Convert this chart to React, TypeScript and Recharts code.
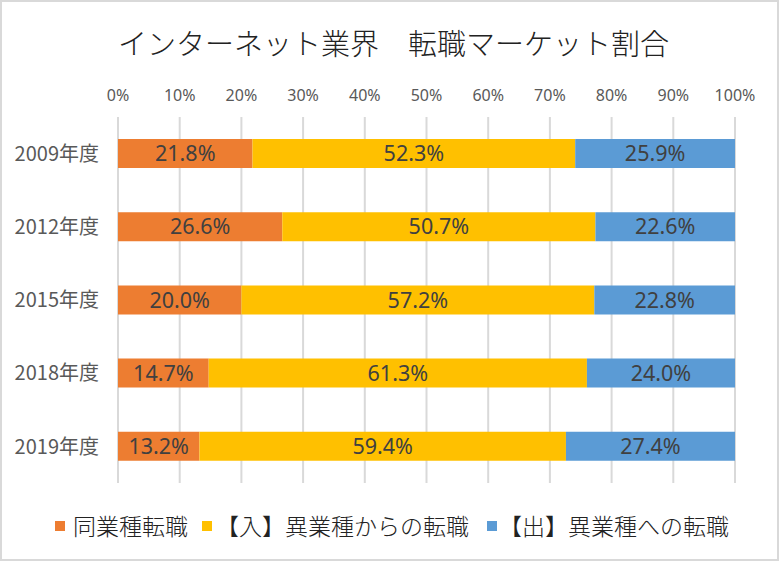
import React from "react";
import { BarChart, Bar, XAxis, YAxis, CartesianGrid, LabelList } from "recharts";

const categories = ["2009年度", "2012年度", "2015年度", "2018年度", "2019年度"];
const sameIndustry = [21.8, 26.6, 20.0, 14.7, 13.2];
const fromOther = [52.3, 50.7, 57.2, 61.3, 59.4];
const toOther = [25.9, 22.6, 22.8, 24.0, 27.4];
const tickValues = [0, 0.1, 0.2, 0.3, 0.4, 0.5, 0.6, 0.7, 0.8, 0.9, 1];

const seriesNames = ["同業種転職", "【入】異業種からの転職", "【出】異業種への転職"];
const seriesColors = ["#ED7D31", "#FFC000", "#5B9BD5"];

const data = categories.map((c, i) => ({
  name: c,
  same: sameIndustry[i],
  from: fromOther[i],
  to: toOther[i],
}));

const CJK = '"Noto Sans CJK JP", "Noto Sans", sans-serif';
const LATIN = '"Noto Sans", "Noto Sans CJK JP", sans-serif';

const fmt = (v: any) => `${Number(v).toFixed(1)}%`;

const labelStyle = { fill: "#404040", fontSize: 21.5, fontFamily: LATIN };

const legendMarkerX = [55, 202, 487];
const legendTextX = [73, 216, 499];

export default function App() {
  const keys = ["same", "from", "to"];
  return (
    <div
      style={{
        position: "absolute",
        left: 0,
        top: 0,
        width: 779,
        height: 561,
        boxSizing: "border-box",
        border: "2px solid #d9d9d9",
        background: "#fff",
        overflow: "hidden",
      }}
    >
      <div
        style={{
          position: "absolute",
          left: 0,
          top: 22,
          width: 779,
          textAlign: "center",
          fontSize: 29,
          lineHeight: "36px",
          fontFamily: CJK,
          fontWeight: 300,
          color: "#222",
          paddingLeft: 4,
          boxSizing: "border-box",
        }}
      >
        インターネット業界　転職マーケット割合
      </div>
      <div style={{ position: "absolute", left: -2, top: -2 }}>
        <BarChart
          width={779}
          height={561}
          data={data}
          layout="vertical"
          stackOffset="expand"
          margin={{ top: 87, right: 44, bottom: 78, left: 0 }}
        >
          <CartesianGrid horizontal={false} stroke="#d9d9d9" strokeWidth={2} />
          <XAxis
            type="number"
            orientation="top"
            domain={[0, 1]}
            ticks={tickValues}
            tickFormatter={(v: number) => `${Math.round(v * 100)}%`}
            axisLine={false}
            tickLine={false}
            height={30}
            tickMargin={10}
            interval={0}
            tick={{ fill: "#595959", fontSize: 16, fontFamily: LATIN }}
          />
          <YAxis
            type="category"
            dataKey="name"
            width={118}
            axisLine={false}
            tickLine={false}
            tickMargin={13}
            tick={{ fill: "#595959", fontSize: 20, fontFamily: CJK }}
          />
          {keys.map((k, i) => (
            <Bar
              key={k}
              dataKey={k}
              stackId="a"
              fill={seriesColors[i]}
              barSize={29}
              isAnimationActive={false}
            >
              <LabelList dataKey={k} position="center" formatter={fmt} style={labelStyle} />
            </Bar>
          ))}
        </BarChart>
      </div>
      {seriesNames.map((n, i) => (
        <React.Fragment key={n}>
          <span
            style={{
              position: "absolute",
              left: legendMarkerX[i] - 2,
              top: 519,
              width: 10,
              height: 10,
              background: seriesColors[i],
            }}
          />
          <span
            style={{
              position: "absolute",
              left: legendTextX[i] - 2,
              top: 506,
              lineHeight: "34px",
              fontFamily: CJK,
              fontWeight: 300,
              fontSize: 23,
              color: "#222",
              whiteSpace: "nowrap",
            }}
          >
            {n}
          </span>
        </React.Fragment>
      ))}
    </div>
  );
}
